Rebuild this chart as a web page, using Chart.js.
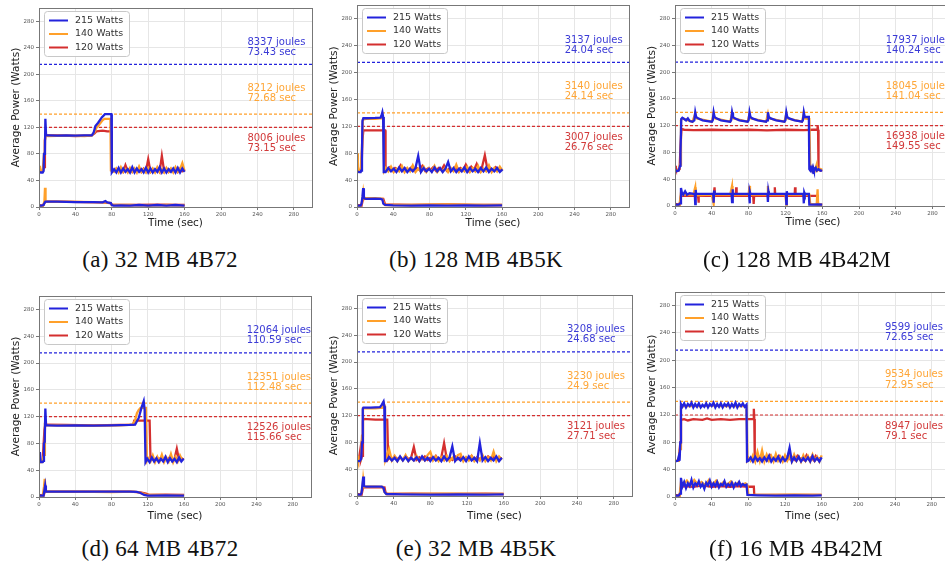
<!DOCTYPE html>
<html>
<head>
<meta charset="utf-8">
<script src="https://cdn.jsdelivr.net/npm/chart.js@4.4.1/dist/chart.umd.min.js"></script>
<style>
html,body{margin:0;padding:0;background:#fff;}
body{width:945px;height:565px;position:relative;overflow:hidden;}
canvas{position:absolute;}
.cap{position:absolute;font-family:"Liberation Serif","Times New Roman",serif;font-size:23px;letter-spacing:0.3px;color:#111;white-space:nowrap;transform:translate(-50%,-50%);}
</style>
</head>
<body>
<script>
// Power traces: [time (sec), watts]. Idle tails are plain value lists at a fixed time step.
const capWatts = [215, 140, 120];
const legendLabels = ['215 Watts', '140 Watts', '120 Watts'];
const noteY = [248, 233, 179, 164, 104, 89];
const noteX = 229;

// (a) 32 MB 4B72
const a215 = [[0,53],[2,52],[4,52],[5,54],[5.5,80],[6.5,82],[7,133],[7.8,108],[10,108],[20,107.5],[30,108],[40,107.5],[50,108],[58,108],[60,112],[62,122],[65,127],[69,135],[72.5,140],[79.5,140],[80,52]];
const a140 = [[0,62],[1,60],[2,53],[4,53],[5.5,80],[6.5,100],[7.3,108],[10,107],[30,107.5],[50,107],[58,108],[61,113],[63,119],[66,124],[70,131],[72,133],[78.5,133],[79,55]];
const a120 = [[0,55],[2,54],[4,53],[5.5,60],[6.5,100],[7,108],[20,108],[40,107],[58,108],[61,111],[63,114],[70,115],[75,114],[79.5,114],[80,56]];
const aIdle215 = [57,52,59,52,58,53,57,52,60,52,58,53,57,52,59,52,58,52,57,53,60,52,58,52,57,53,58,52,59,52,58,53];
const aIdle140 = [53,58,52,60,53,57,52,59,53,58,52,61,53,57,52,59,53,58,52,60,53,57,52,59,53,58,52,60,53,57,66,54];
const aIdle120 = [55,58,54,57,53,63,54,58,53,57,54,59,53,58,54,72,53,57,54,58,53,77,54,58,53,57,54,59,53,58,54,56];
const aLow215 = [[0,2],[3,2],[5,3],[6,6],[7,8],[8,8],[20,8],[40,7.5],[60,7.5],[70,7],[73,9],[75,7],[79,6],[80,3],[82,2],[90,2.5],[100,2],[110,3],[120,2],[130,3],[140,2],[150,3],[160,2]];
const aLow140 = [[0,1],[4,1],[5,3],[6,10],[6.6,29],[7.2,9],[8,8],[30,8],[60,7.5],[72,7],[75,6.5],[79,6],[80,3],[100,3],[120,2],[140,3],[160,2.5]];
const aLow120 = [[0,3],[4,2],[6,6],[7,8],[20,8],[50,7.5],[70,7],[78,6],[80,3.5],[100,3],[130,3.5],[160,3]];
const aNotes = ['8337 joules','73.43 sec','8212 joules','72.68 sec','8006 joules','73.15 sec'];

// (b) 128 MB 4B5K
const b215 = [[0,53],[2,52],[4,52],[4.5,54],[5.5,80],[6,128],[7,132],[10,132],[20,132.5],[26,133],[27,136],[28,141],[28.8,134],[29.5,52]];
const b140 = [[0,80],[1,60],[2,53],[4,53],[5.5,90],[6.5,130],[10,131],[20,131],[27,132],[28,135],[29,133],[30,54]];
const b120 = [[0,54],[3,53],[5,56],[6,100],[7,114],[15,114],[25,114],[31,114],[31.5,55]];
const bIdle215 = [52,58,53,57,52,59,53,58,52,57,53,58,76,52,58,53,57,52,59,53,58,52,57,67,53,58,52,57,53,59,52,58,53,57,52,58,53,59,52,57,53,58,52,56];
const bIdle140 = [58,53,60,52,57,53,61,52,58,53,62,52,57,53,60,52,58,53,61,52,57,53,59,52,58,53,63,52,57,53,60,52,58,53,61,52,57,53,62,52,58,53,60,54];
const bIdle120 = [56,59,54,58,55,62,54,57,55,59,54,58,55,61,54,57,55,59,54,58,55,62,54,57,55,59,54,58,55,63,54,60,55,64,54,60,77,55,58,54,59,55,57];
const bLow215 = [[0,2],[4,2],[5,5],[6,15],[6.8,28],[7.6,13],[10,12],[20,12.5],[26,12],[28,11],[29,5],[31,3],[40,2.5],[60,2],[80,2.5],[100,2],[120,2.5],[140,2],[160,2.5]];
const bLow140 = [[0,2],[4,1],[6,10],[7,22],[8,13],[20,13],[28,12],[30,4],[31,3],[50,3],[100,4],[140,3],[160,3]];
const bLow120 = [[0,3],[5,2],[6.5,11],[8,12],[20,12],[29,12],[31,4],[60,3],[100,4],[130,3],[160,3]];
const bNotes = ['3137 joules','24.04 sec','3140 joules','24.14 sec','3007 joules','26.76 sec'];

// (c) 128 MB 4B42M
const c215 = [[0,55],[2,52],[4,53],[5.5,60],[6,80],[6.8,130],[8,132],[10,130],[12,128],[14,131],[16,127],[19,126],[21,128],[22,140],[23,133],[25,131],[30,128],[35,127],[40,126],[41,128],[42,140],[43,133],[45,131],[50,128],[55,127],[60,126],[61,128],[62,140],[63,133],[65,131],[70,128],[75,127],[79,126],[80,128],[81,140],[82,133],[84,131],[90,128],[95,127],[99,126],[100,128],[101,140],[102,133],[104,131],[110,128],[115,127],[119,126],[120,128],[121,140],[122,133],[124,131],[130,128],[135,127],[138,126],[139,128],[140,140],[141,133],[145.5,133],[146,55],[147,53],[148,57],[149,53],[150,58],[151,53],[153,57],[154,53],[156,55],[158,53],[160,53]];
const c140 = [[0,53],[4,53],[5.5,62],[6.5,128],[8,131],[19,126],[22,138],[23,131],[40,126],[42,138],[43,131],[60,126],[62,138],[63,131],[79,126],[81,138],[82,131],[99,126],[101,138],[102,131],[119,126],[121,138],[122,131],[138,126],[140,138],[141,131],[146,130],[147,55],[149,52],[150,58],[152,53],[154,62],[155,53],[157,56],[160,54]];
const c120 = [[0,60],[1,56],[3,53],[5,55],[6,90],[7,115],[10,114],[20,113.5],[40,114],[60,113.5],[80,114],[100,113],[120,114],[140,113.5],[150,114],[154.5,114],[155,121],[155.5,114],[156,56],[158,53],[160,54]];
const cLow215 = [[0,2],[4,2],[5.5,4],[6.5,27],[7.5,20],[9,17],[11,22],[13,17],[16,19],[20,18],[21.5,18],[22,3],[22.5,24],[23,18],[30,18],[41.5,18],[42,5],[42.5,23],[43,18],[50,18],[61.5,18],[62,6],[62.5,25],[63,18],[70,18],[80.5,18],[81,4],[81.5,22],[82,18],[90,18],[100.5,18],[101,6],[101.5,22],[102,18],[110,18],[120.5,18],[121,3],[121.5,22],[122,18],[130,18],[139.5,18],[140,4],[140.5,20],[141,18],[145.5,18],[146,2],[150,2],[155,2.5],[160,2]];
const cLow140 = [[0,1],[5,2],[6.5,20],[8,17],[20,17],[22,28],[22.5,16],[40,17],[42,3],[42.5,17],[60,17],[62,30],[62.5,17],[80,17],[81,30],[81.5,17],[100,17],[101,30],[101.5,17],[120,17],[121,2],[121.5,17],[140,17],[146,17],[147,3],[154,2],[155,25],[155.5,2],[160,2]];
const cLow120 = [[0,3],[5,2],[6.5,15],[8,15],[20,15],[25,15],[25.5,5],[26,15],[42,15],[43,28],[43.5,15],[60,15],[66,15],[66.5,28],[67,15],[80,15],[85,15],[85.5,3],[86,15],[100,15],[108,15],[108.5,28],[109,15],[120,15],[130,15],[130.5,28],[131,15],[145,15],[155,15],[155.5,2],[160,2]];
const cNotes = ['17937 joules','140.24 sec','18045 joules','141.04 sec','16938 joules','149.55 sec'];

// (d) 64 MB 4B72
const d215 = [[0,52],[1,67],[1.8,52],[4,52],[5,54],[5.5,80],[6.3,82],[7,132],[7.8,107],[10,107],[20,106.5],[40,107],[60,106.5],[80,107],[100,107.5],[106,108],[110,118],[113,133],[115.5,143],[116.5,130],[117.5,52]];
const d140 = [[0,52],[3,52],[5,60],[5.8,63],[6.5,108],[8,107],[30,107],[60,106.5],[90,107],[103,108],[106,114],[108,125],[110,130],[112,133],[118,133],[119,54]];
const d120 = [[0,53],[4,53],[6,100],[7,108],[30,107.5],[60,107],[90,107.5],[104,108],[105,114],[115,114],[122,114],[123,55]];
const dIdle215 = [57,52,59,53,58,52,57,53,60,52,58,53,57,52,59,53,57];
const dIdle140 = [58,53,62,52,60,53,63,52,59,53,64,52,60,53,62,55];
const dIdle120 = [58,54,57,55,59,54,58,55,60,54,57,72,55,58,56];
const dLow215 = [[0,2],[5,2],[6,10],[6.8,17],[7.6,8],[10,8],[40,8],[80,8],[100,8],[108,7.5],[112,6],[116,3],[120,2],[140,2.5],[160,2]];
const dLow140 = [[0,1],[4,1],[5.5,15],[6.3,27],[7.2,12],[8,8],[40,8],[80,7.5],[105,8],[110,7],[115,5],[119,3],[130,3],[160,2.5]];
const dLow120 = [[0,3],[5,2],[6.5,8],[10,8],[60,8],[100,8],[112,7],[118,5],[122,3],[140,3.5],[160,3]];
const dNotes = ['12064 joules','110.59 sec','12351 joules','112.48 sec','12526 joules','115.66 sec'];

// (e) 32 MB 4B5K
const e215 = [[0,52],[3,52],[4.5,55],[5.5,80],[6.3,130],[7,132],[15,132],[25,132.5],[27,136],[29,141],[29.8,134],[30.5,52]];
const e140 = [[0,60],[1,54],[4,53],[5.5,90],[6.5,131],[20,131],[28,132],[29,138],[30.5,134],[31,54]];
const e120 = [[0,53],[2,54],[3.5,68],[4.2,54],[5.5,60],[6.5,112],[7,115],[20,114],[30,114],[33,114],[34,55]];
const eIdle215 = [52,58,53,57,52,59,53,58,52,57,53,58,52,59,53,57,52,58,53,57,52,59,53,58,74,52,57,53,58,52,59,53,57,52,79,53,58,52,57,53,59,52,57];
const eIdle140 = [58,70,53,60,52,58,53,61,52,57,53,60,52,58,53,61,66,53,59,52,58,53,60,52,57,53,61,63,52,58,53,60,52,57,53,61,52,58,53,66,52,59,54];
const eIdle120 = [57,54,59,55,58,54,60,55,57,73,54,58,55,59,54,57,55,60,54,58,79,55,57,54,59,55,58,54,57,55,60,54,58,55,57,54,59,55,58,54,57,56];
const eLow215 = [[0,2],[4,2],[5,5],[6,18],[6.8,29],[7.6,15],[10,14],[20,14],[27,14],[29,12],[30,6],[32,3],[50,2.5],[80,2],[110,2.5],[140,2],[160,2.5]];
const eLow140 = [[0,1],[4,2],[6,12],[6.8,25],[7.8,14],[20,14],[28,13.5],[30,6],[32,3],[60,3],[100,3.5],[130,3],[160,3]];
const eLow120 = [[0,3],[5,2],[6.5,12],[8,13],[20,13],[30,13],[31,6],[33,3],[60,3.5],[100,3],[140,3.5],[160,3]];
const eNotes = ['3208 joules','24.68 sec','3230 joules','24.9 sec','3121 joules','27.71 sec'];

// (f) 16 MB 4B42M
const f215 = [[0,52],[3,53],[4.2,60],[5,53],[5.8,80],[6.5,136],[8,132],[10,137],[12,131],[14,136],[16,133],[18,138],[20,131],[22,136],[24,132],[26,137],[28,131],[30,135],[32,132],[34,137],[36,131],[38,136],[40,133],[42,138],[44,131],[46,136],[48,132],[50,137],[52,131],[54,136],[56,133],[58,137],[60,131],[62,136],[64,132],[66,138],[68,131],[70,136],[72,133],[74,137],[76,132],[78,135],[78.6,52]];
const f140 = [[0,53],[4,53],[5.5,70],[6.5,132],[10,133],[20,133.5],[30,133],[40,134],[50,133],[60,133.5],[70,133],[78,133],[79,55]];
const f120 = [[0,53],[4,53],[5.8,80],[6.5,113],[10,114],[14,112],[20,114],[30,113],[35,115],[40,113],[50,114],[60,113],[70,114],[80,114],[85.5,114],[86,129],[86.5,114],[87,55]];
const fIdle215 = [53,58,52,59,53,57,52,58,53,60,52,57,53,59,52,58,53,57,72,52,58,53,59,52,57,53,58,52,60,53,57,52,58];
const fIdle140 = [58,53,61,52,66,53,68,52,62,53,60,52,63,53,59,52,61,53,60,52,62,53,59,52,61,53,60,52,62,53,59,52,61];
const fIdle120 = [58,54,60,55,57,54,61,55,58,54,60,55,57,54,62,55,58,54,60,55,57,54,61,55,58,54,60,55,57];
const fLow215 = [[0,2],[4,2],[5.5,5],[6.5,28],[8,15],[10,22],[12,13],[14,20],[16,16],[18,25],[20,14],[22,20],[24,17],[26,23],[28,15],[30,19],[32,12],[34,21],[36,17],[38,24],[40,15],[42,20],[44,16],[46,22],[48,14],[50,19],[52,17],[54,23],[56,15],[58,19],[60,16],[62,21],[64,14],[66,20],[68,17],[70,22],[72,16],[74,19],[76,17],[78,18],[79,3],[90,2.5],[110,2],[130,2.5],[150,2],[160,2.5]];
const fLow140 = [[0,1],[5,2],[6.5,22],[9,18],[13,24],[17,17],[21,25],[25,18],[29,22],[33,17],[37,25],[41,18],[45,24],[49,17],[53,22],[57,18],[61,23],[65,17],[69,21],[73,18],[77,20],[79,17],[80,3],[100,3],[130,3.5],[160,3]];
const fLow120 = [[0,3],[5,2],[6.5,14],[10,16],[20,15],[30,17],[40,15],[50,16],[60,15],[70,16],[80,15],[86,15],[86.5,3],[100,3],[130,3],[160,3]];
const fNotes = ['9599 joules','72.65 sec','9534 joules','72.95 sec','8947 joules','79.1 sec'];

const captions = ['(a) 32 MB 4B72','(b) 128 MB 4B5K','(c) 128 MB 4B42M','(d) 64 MB 4B72','(e) 32 MB 4B5K','(f) 16 MB 4B42M'];

const LINE = ['#2323dc', '#ffa02a', '#d42f2f'];
const NOTE = ['#3b3bd6', '#ffa637', '#d23a3a'];

// idle tail: [values, first time, step]
const panels = [
  {g:{cx:0,cy:0,L:39,T:8,R:312,B:207,xt:223,capX:160,capY:260}, up:[a215,a140,a120], idle:[[aIdle215,82.5,2.5],[aIdle140,82.5,2.5],[aIdle120,82.5,2.5]], low:[aLow215,aLow140,aLow120], notes:aNotes, cap:captions[0]},
  {g:{cx:315,cy:0,L:357,T:4,R:629,B:207,xt:223,capX:476,capY:260}, up:[b215,b140,b120], idle:[[bIdle215,31.5,3],[bIdle140,31.5,3],[bIdle120,33,3]], low:[bLow215,bLow140,bLow120], notes:bNotes, cap:captions[1]},
  {g:{cx:630,cy:0,L:675,T:2,R:951,B:206,xt:222,capX:797,capY:260}, up:[c215,c140,c120], idle:[null,null,null], low:[cLow215,cLow140,cLow120], notes:cNotes, cap:captions[2]},
  {g:{cx:0,cy:285,L:39,T:296,R:311,B:497,xt:516,capX:160,capY:549}, up:[d215,d140,d120], idle:[[dIdle215,119.5,2.5],[dIdle140,120.5,2.5],[dIdle120,124.5,2.5]], low:[dLow215,dLow140,dLow120], notes:dNotes, cap:captions[3]},
  {g:{cx:315,cy:285,L:357,T:295,R:632,B:496,xt:516,capX:476,capY:549}, up:[e215,e140,e120], idle:[[eIdle215,32,3],[eIdle140,32,3],[eIdle120,35,3]], low:[eLow215,eLow140,eLow120], notes:eNotes, cap:captions[4]},
  {g:{cx:630,cy:285,L:675,T:292,R:950,B:497,xt:516,capX:796,capY:549}, up:[f215,f140,f120], idle:[[fIdle215,80,2.5],[fIdle140,80,2.5],[fIdle120,88.5,2.5]], low:[fLow215,fLow140,fLow120], notes:fNotes, cap:captions[5]}
];

Chart.defaults.font.family = '"DejaVu Sans", sans-serif';

function pts(list, tail) {
  const out = list.map(p => ({x: p[0], y: p[1]}));
  if (tail) tail[0].forEach((v, i) => out.push({x: tail[1] + i * tail[2], y: v}));
  return out;
}

const framePlugin = {
  id: 'frame',
  afterDraw(chart) {
    const {ctx, chartArea: a} = chart;
    ctx.save();
    ctx.strokeStyle = '#777';
    ctx.lineWidth = 1;
    ctx.strokeRect(Math.round(a.left) + 0.5, Math.round(a.top) + 0.5, Math.round(a.right - a.left), Math.round(a.bottom - a.top));
    ctx.restore();
  }
};

const notesPlugin = {
  id: 'notes',
  afterDatasetsDraw(chart, args, opts) {
    const {ctx, scales: {x, y}} = chart;
    ctx.save();
    ctx.font = '10px "DejaVu Sans"';
    ctx.textBaseline = 'middle';
    ctx.textAlign = 'left';
    opts.lines.forEach((t, i) => {
      ctx.fillStyle = NOTE[Math.floor(i / 2)];
      ctx.fillText(t, x.getPixelForValue(noteX), y.getPixelForValue(noteY[i]));
    });
    ctx.restore();
  }
};

const boxLegend = {
  id: 'boxLegend',
  afterDatasetsDraw(chart) {
    const {ctx, chartArea: a} = chart;
    const bx = Math.round(a.left) + 5, by = Math.round(a.top) + 3, bw = 85, bh = 45;
    ctx.save();
    ctx.fillStyle = 'rgba(255,255,255,0.92)';
    ctx.strokeStyle = '#c8c8c8';
    ctx.lineWidth = 1;
    ctx.beginPath();
    ctx.roundRect(bx + 0.5, by + 0.5, bw, bh, 3);
    ctx.fill();
    ctx.stroke();
    ctx.font = '9.5px "DejaVu Sans"';
    ctx.textBaseline = 'middle';
    legendLabels.forEach((t, i) => {
      const yy = by + 9.5 + i * 13.5;
      ctx.strokeStyle = LINE[i];
      ctx.lineWidth = 2;
      ctx.beginPath();
      ctx.moveTo(bx + 5, yy);
      ctx.lineTo(bx + 24, yy);
      ctx.stroke();
      ctx.fillStyle = '#333';
      ctx.fillText(t, bx + 31, yy);
    });
    ctx.restore();
  }
};

function makePanel(p) {
  const g = p.g;
  const w = Math.ceil(g.R + 2 - g.cx), h = g.B + 34 - g.cy;
  const c = document.createElement('canvas');
  c.width = w; c.height = h;
  c.style.left = g.cx + 'px'; c.style.top = g.cy + 'px';
  c.style.width = w + 'px'; c.style.height = h + 'px';
  document.body.appendChild(c);

  const cap = document.createElement('div');
  cap.className = 'cap';
  cap.textContent = p.cap;
  cap.style.left = g.capX + 'px';
  cap.style.top = g.capY + 'px';
  document.body.appendChild(cap);

  const yW = g.L - g.cx, xH = h - (g.B - g.cy);
  const lh = 10.5 * 1.2;

  const datasets = [];
  capWatts.forEach((v, i) => {
    datasets.push({data: [{x: 0, y: v}, {x: 300, y: v}], borderColor: LINE[i], borderWidth: 1.2, borderDash: [3, 2], order: 5});
  });
  [0, 1, 2].forEach(i => {
    datasets.push({data: pts(p.up[i], p.idle[i]), borderColor: LINE[i], borderWidth: 2.3, order: i});
    datasets.push({data: pts(p.low[i]), borderColor: LINE[i], borderWidth: 2.3, order: i});
  });

  const tickSet = s => { s.ticks = s.ticks.filter(t => t.value % 40 === 0); };

  new Chart(c, {
    type: 'line',
    data: {datasets},
    options: {
      responsive: false,
      animation: false,
      devicePixelRatio: 1,
      parsing: false,
      elements: {point: {radius: 0}, line: {tension: 0, borderJoinStyle: 'miter'}},
      layout: {padding: {top: g.T - g.cy, right: w - (g.R - g.cx), left: 0, bottom: 0}},
      plugins: {legend: {display: false}, tooltip: {enabled: false}, notes: {lines: p.notes}},
      scales: {
        x: {
          type: 'linear', min: 0, max: 300,
          afterFit: s => { s.height = xH; },
          afterBuildTicks: tickSet,
          ticks: {stepSize: 40, font: {size: 5.5}, color: '#555', padding: 1, maxRotation: 0, autoSkip: false},
          grid: {color: '#e6e6e6', tickLength: 3, tickColor: '#777'},
          border: {color: '#777'},
          title: {display: true, text: 'Time (sec)', font: {size: 10.5}, color: '#222',
                  padding: {top: 0, bottom: h - (g.xt - g.cy) - lh / 2}}
        },
        y: {
          type: 'linear', min: 0, max: 300,
          afterFit: s => { s.width = yW; },
          afterBuildTicks: tickSet,
          ticks: {stepSize: 40, font: {size: 5.5}, color: '#555', padding: 2},
          grid: {color: '#e6e6e6', tickLength: 3, tickColor: '#777'},
          border: {color: '#777'},
          title: {display: true, text: 'Average Power (Watts)', font: {size: 10.5}, color: '#222',
                  padding: {top: g.L - 22.5 - g.cx - lh / 2, bottom: 0}}
        }
      }
    },
    plugins: [framePlugin, notesPlugin, boxLegend]
  });
}

panels.forEach(makePanel);
</script>
</body>
</html>
